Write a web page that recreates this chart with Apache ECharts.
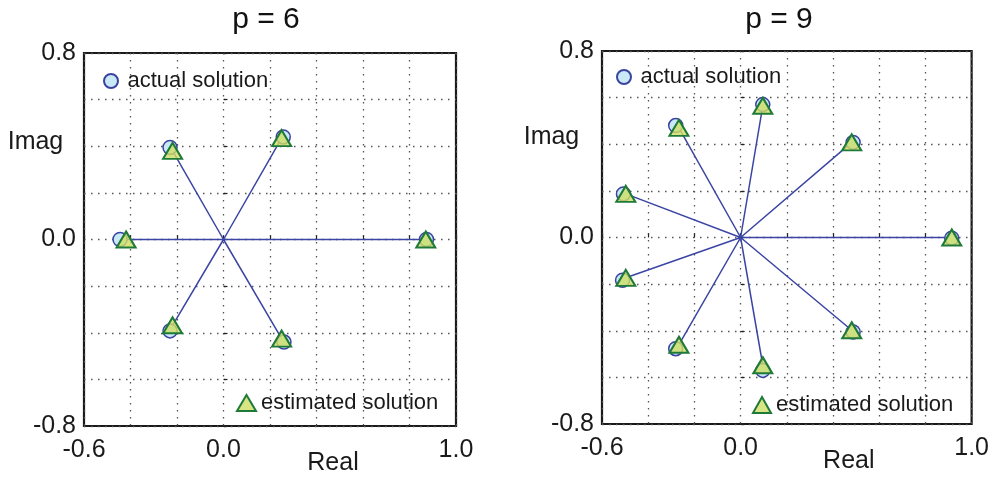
<!DOCTYPE html>
<html>
<head>
<meta charset="utf-8">
<script src="https://cdn.jsdelivr.net/npm/echarts@6/dist/echarts.min.js"></script>
<style>
  html, body { margin: 0; padding: 0; background: #fff; }
  #main { width: 992px; height: 481px; }
</style>
</head>
<body>
<div id="main"></div>
<script>
var chartDom = document.getElementById('main');
var myChart = echarts.init(chartDom);
var option;

// p = 6 panel
var actual6 = [[0.873, 0], [0.257, 0.440], [-0.230, 0.395], [-0.445, 0], [-0.230, -0.392], [0.260, -0.440]];
var est6 = [[0.870, 0], [0.250, 0.435], [-0.219, 0.380], [-0.419, 0], [-0.219, -0.368], [0.250, -0.425]];

// p = 9 panel
var actual9 = [[0.914, -0.003], [0.487, 0.408], [0.096, 0.570], [-0.281, 0.480], [-0.507, 0.187],
               [-0.511, -0.183], [-0.281, -0.477], [0.096, -0.570], [0.487, -0.405]];
var est9 = [[0.914, 0], [0.481, 0.408], [0.096, 0.565], [-0.267, 0.470], [-0.497, 0.187],
            [-0.497, -0.173], [-0.267, -0.460], [0.096, -0.548], [0.481, -0.398]];

var titles = ['p = 6', 'p = 9'];
var xLabels = [-0.6, 0.0, 1.0];
var yLabels = [-0.8, 0.0, 0.8];

var font = 'Liberation Sans, Arial, Helvetica, sans-serif';
var ink = '#1a1a1a';

function pickLabel(list) {
    return function (v) {
        for (var i = 0; i < list.length; i++) {
            if (Math.abs(list[i] - v) < 1e-6) {
                return Math.abs(v) < 1e-9 ? '0.0' : v.toFixed(1);
            }
        }
        return '';
    };
}

// star of lines from the origin to each estimated root
function spokes(pts) {
    var out = [];
    for (var i = 0; i < pts.length; i++) {
        out.push([0, 0]);
        out.push(pts[i]);
    }
    return out;
}

var grids = [
    { left: 84, top: 53, width: 372, height: 373 },
    { left: 602, top: 51, width: 371, height: 373 }
];

function makeX(idx) {
    return {
        type: 'value', gridIndex: idx, min: -0.6, max: 1.0, interval: 0.2,
        name: 'Real', nameLocation: 'middle', nameGap: 25, nameMoveOverlap: false,
        nameTextStyle: { fontSize: 25, color: ink, fontFamily: font, padding: [0, 0, 0, idx === 0 ? 126 : 124] },
        axisLine: { show: false },
        axisTick: { show: true, inside: true, length: 4, lineStyle: { color: '#222', width: 1.2 } },
        axisLabel: { fontSize: 25, color: ink, fontFamily: font, margin: 12, formatter: pickLabel(xLabels) },
        splitLine: { show: true, lineStyle: { type: [1.5, 5.5], color: '#555', width: 1.3 } }
    };
}

function makeY(idx) {
    return {
        type: 'value', gridIndex: idx, min: -0.8, max: 0.8, interval: 0.2,
        axisLine: { show: false },
        axisTick: { show: true, inside: true, length: 4, lineStyle: { color: '#222', width: 1.2 } },
        axisLabel: { fontSize: 25, color: ink, fontFamily: font, margin: 8, formatter: pickLabel(yLabels) },
        splitLine: { show: true, lineStyle: { type: [1.5, 5.5], color: '#555', width: 1.3 } }
    };
}

function makeSeries(idx, actual, est) {
    return [
        {
            name: 'spokes', type: 'line', xAxisIndex: idx, yAxisIndex: idx,
            data: spokes(est), symbol: 'none', silent: true, z: 2,
            lineStyle: { color: '#3b45a3', width: 1.5 }
        },
        {
            name: 'actual solution', type: 'scatter', xAxisIndex: idx, yAxisIndex: idx,
            data: actual, symbol: 'circle', symbolSize: 14, z: 3,
            itemStyle: { color: '#c9e9f6', borderColor: '#3a44a0', borderWidth: 1.5, opacity: 1 }
        },
        {
            name: 'estimated solution', type: 'scatter', xAxisIndex: idx, yAxisIndex: idx,
            data: est, symbol: 'triangle', symbolSize: [19, 16], z: 4,
            itemStyle: { color: 'rgba(208,222,100,0.8)', borderColor: '#1f7a3a', borderWidth: 2, opacity: 1 }
        }
    ];
}

function legendAt(name, left, top, w, h) {
    return {
        data: [name], left: left, top: top, padding: 0, orient: 'horizontal',
        itemWidth: w, itemHeight: h, selectedMode: false,
        textStyle: { fontSize: 22, color: ink, fontFamily: font }
    };
}

function imagLabel(cx, cy) {
    return {
        type: 'text', left: cx - 28, top: cy - 14,
        style: { text: 'Imag', fontSize: 25, fill: ink, fontFamily: font }
    };
}

option = {
    backgroundColor: '#fff',
    animation: false,
    title: [
        { text: titles[0], left: 261, top: 0, textAlign: 'center',
          textStyle: { fontSize: 30, fontWeight: 'normal', color: '#111', fontFamily: font } },
        { text: titles[1], left: 774, top: 0, textAlign: 'center',
          textStyle: { fontSize: 30, fontWeight: 'normal', color: '#111', fontFamily: font } }
    ],
    legend: [
        legendAt('actual solution', 103, 70, 23, 14),
        legendAt('estimated solution', 236, 392, 19, 16),
        legendAt('actual solution', 616, 66, 23, 14),
        legendAt('estimated solution', 752, 394, 18, 16)
    ],
    graphic: [imagLabel(35.7, 143.3), imagLabel(551.7, 138.3)],
    grid: grids.map(function (g) {
        return Object.assign({ show: true, borderColor: '#1a1a1a', borderWidth: 2.2, containLabel: false }, g);
    }),
    xAxis: [makeX(0), makeX(1)],
    yAxis: [makeY(0), makeY(1)],
    series: makeSeries(0, actual6, est6).concat(makeSeries(1, actual9, est9))
};

option && myChart.setOption(option);
</script>
</body>
</html>
